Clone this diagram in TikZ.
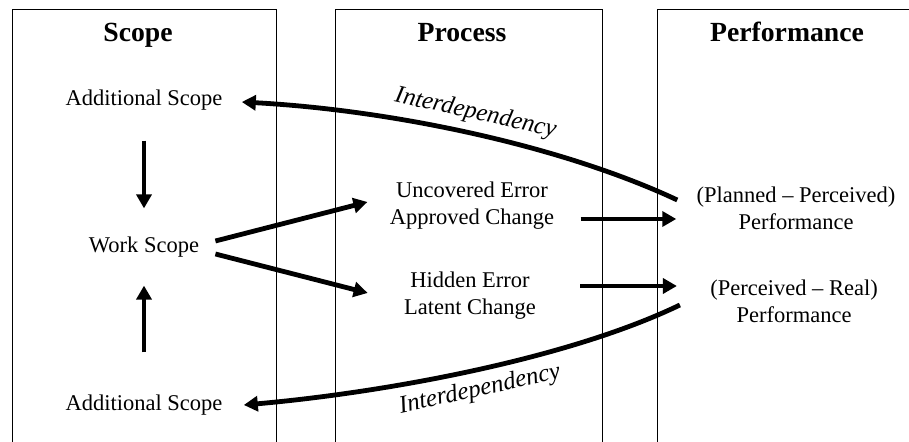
\documentclass[tikz,border=0pt]{standalone}
\usepackage{fontspec}
\setmainfont{Liberation Serif}
\usepackage{tikz}
\usetikzlibrary{arrows.meta}

\begin{document}
\begin{tikzpicture}[x=0.5pt, y=-0.5pt,
    col/.style={line width=0.5pt},
    head/.style={inner sep=0pt, anchor=base, font=\fontsize{13.85}{16}\selectfont\bfseries},
    txt/.style={inner sep=0pt, align=center, font=\fontsize{11.25}{13.5}\selectfont},
    arr/.style={line width=2.4pt, -{Triangle[length=7pt, width=7.5pt]}},
    dep/.style={font=\fontsize{12.4}{14}\selectfont\itshape, sloped}
    ]
    \useasboundingbox (0,0) rectangle (909,442);
    % columns
    \draw[col] (12,442) |- (276,10) -- (276,442);
    \draw[col] (335,442) |- (602,10) -- (602,442);
    \draw[col] (657,442) |- (909,10);
    \node[head] (hScope) at (138,42) {Scope};
    \node[head] (hProc) at (462,42) {Process};
    \node[head] (hPerf) at (787,42) {Performance};
    % scope
    \node[txt] (addTop) at (144,100) {Additional Scope};
    \node[txt] (work) at (144,247) {Work Scope};
    \node[txt] (addBot) at (144,405) {Additional Scope};
    % process
    \node[txt] (uncov) at (472,206) {Uncovered Error\\Approved Change};
    \node[txt] (hidden) at (470,296) {Hidden Error\\Latent Change};
    % performance
    \node[txt] (planned) at (796,208) {(Planned -- Perceived)\\Performance};
    \node[txt] (perceived) at (794,301) {(Perceived -- Real)\\Performance};

    \draw[arr] ([shift={(0,30)}]addTop.south) -- ([shift={(0,-28)}]work.north);
    \draw[arr] ([shift={(0,-42)}]addBot.north) -- ([shift={(0,28)}]work.south);
    \draw[arr] ([shift={(16,-6)}]work.east) -- ([shift={(-22,-4)}]uncov.west);
    \draw[arr] ([shift={(16,7)}]work.east) -- ([shift={(-36,-3)}]hidden.west);
    \draw[arr] ([shift={(26,13)}]uncov.east) -- ([shift={(-20,11)}]planned.west);
    \draw[arr] ([shift={(44,-10)}]hidden.east) -- ([shift={(-33,-15)}]perceived.west);
    \draw[arr] ([shift={(-19,-8)}]planned.west) .. controls (560,145) and (390,110) .. ([shift={(19,2)}]addTop.east)
      node[dep, midway, above] {Interdependency};
    \draw[arr] ([shift={(-30,4)}]perceived.west) .. controls (570,358) and (390,392) .. ([shift={(21,0)}]addBot.east)
      node[dep, midway, below] {Interdependency};
\end{tikzpicture}
\end{document}
